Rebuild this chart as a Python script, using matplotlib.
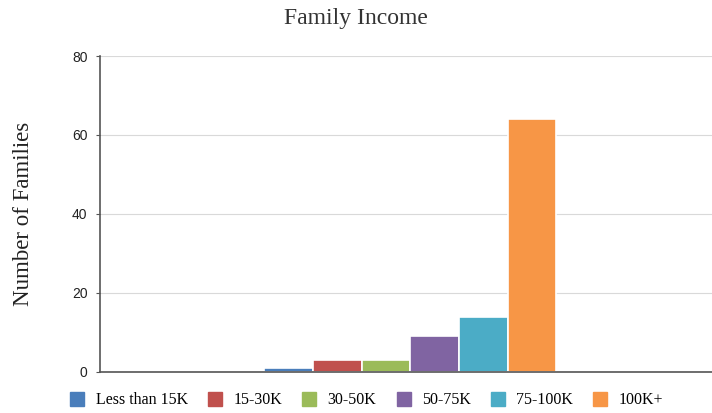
import matplotlib
matplotlib.use("Agg")
import matplotlib.pyplot as plt
from matplotlib.lines import Line2D
import numpy as np

categories = ["Less than 15K", "15-30K", "30-50K", "50-75K", "75-100K", "100K+"]
values = [1, 3, 3, 9, 14, 64]
colors = ["#4a7ebb", "#c0504d", "#9bbb59", "#8064a2", "#4bacc6", "#f79646"]
yticks = [0, 20, 40, 60, 80]

fig = plt.figure(figsize=(7.12, 4.13), dpi=100)
ax = fig.add_axes([0.1404, 0.0993, 0.8596, 0.7651])

w = 0.0795
n = len(values)
for i, (c, v, col) in enumerate(zip(categories, values, colors)):
    ax.bar((i - (n - 1) / 2) * w + 0.007, v, width=w, color=col, edgecolor="white",
           linewidth=1.2, label=c)

ax.set_xlim(-0.5, 0.5)
ax.set_ylim(0, 80)
ax.set_yticks(yticks)
ax.set_xticks([])
ax.grid(axis="y", color="#d9d9d9", linewidth=0.8)
ax.set_axisbelow(True)
for s in ["top", "right"]:
    ax.spines[s].set_visible(False)
ax.spines["left"].set_color("#555555")
ax.spines["bottom"].set_color("#555555")
ax.spines["left"].set_linewidth(1.2)
ax.spines["bottom"].set_linewidth(1.2)
ax.tick_params(axis="y", length=3, color="#555555", labelsize=10,
               labelcolor="#222222", pad=6)
for lab in ax.get_yticklabels():
    lab.set_family(["Liberation Sans", "DejaVu Sans"])

ax.set_ylabel("Number of Families", family=["Liberation Serif", "DejaVu Serif"],
              fontsize=16.5, color="#222222", labelpad=27)
fig.suptitle("Family Income", family=["Liberation Serif", "DejaVu Serif"],
             fontsize=17, color="#333333", x=0.5, y=0.98)

handles = [Line2D([], [], marker="s", linestyle="none", markersize=9.5,
                  markerfacecolor=col, markeredgecolor=col) for col in colors]
leg = ax.legend(handles, categories, loc="center", bbox_to_anchor=(0.515, 0.031),
                bbox_transform=fig.transFigure, ncol=6, frameon=False,
                handlelength=0.9, handletextpad=0.7,
                columnspacing=1.25,
                prop={"family": ["Liberation Serif", "DejaVu Serif"], "size": 11.5})

fig.savefig("out.png", dpi=100)
